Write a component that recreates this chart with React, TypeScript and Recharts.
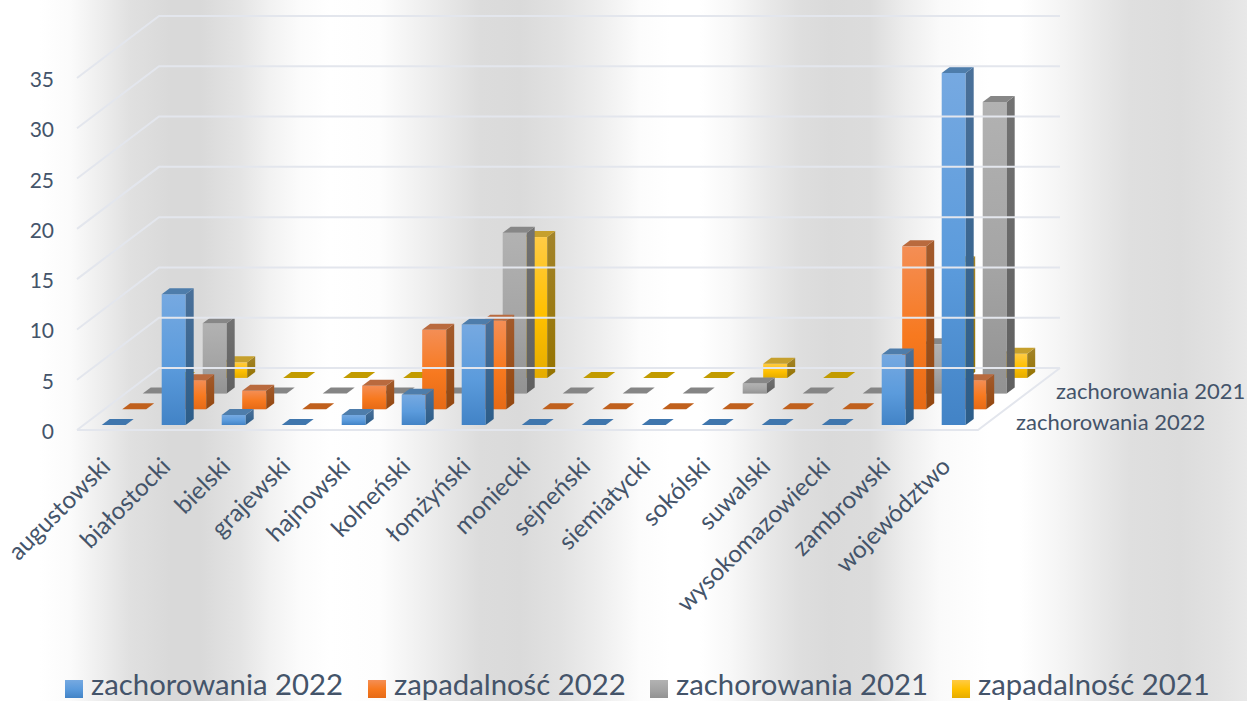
import { BarChart, Bar, XAxis, YAxis } from "recharts";

const categories = [
  "augustowski", "białostocki", "bielski", "grajewski", "hajnowski",
  "kolneński", "łomżyński", "moniecki", "sejneński", "siemiatycki",
  "sokólski", "suwalski", "wysokomazowiecki", "zambrowski", "województwo",
];
const zachorowania2022 = [0, 13, 1, 0, 1, 3, 10, 0, 0, 0, 0, 0, 0, 7, 35];
const zapadalnosc2022 = [0, 2.9, 1.85, 0, 2.35, 7.9, 8.8, 0, 0, 0, 0, 0, 0, 16.2, 2.9];
const zachorowania2021 = [0, 7, 0, 0, 0, 0, 16, 0, 0, 0, 1, 0, 0, 4.9, 29];
const zapadalnosc2021 = [0, 1.55, 0, 0, 0, 0, 14, 0, 0, 0, 1.4, 0, 0, 11.5, 2.4];
const valueTicks = [0, 5, 10, 15, 20, 25, 30, 35];
const depthLabels = ["zachorowania 2022", "zachorowania 2021"];

const chartData = categories.map((name, i) => ({
  name,
  zach22: zachorowania2022[i],
  zap22: zapadalnosc2022[i],
  zach21: zachorowania2021[i],
  zap21: zapadalnosc2021[i],
}));

const FONT = "Lato, 'Open Sans', sans-serif";
const TEXT = "#44546A";
const GRID = "#E3E6ED";
const LEFT = 77;
const RIGHT = 977;
const DEPTH_X = 82;
const DEPTH_Y = 62;

const BACKDROP =
  "linear-gradient(90deg, #fff 0px, #fff 40px, #fbfbfb 70px, #eee 100px, #e0e0e0 130px, #d9d9d9 170px, #d9d9d9 200px, #e4e4e4 240px, #f2f2f2 270px, #fbfbfb 300px, #fff 330px, #fdfdfd 380px, #f0f0f0 420px, #e6e6e6 450px, #dcdcdc 480px, #dadada 520px, #e2e2e2 560px, #eee 600px, #fcfcfc 640px, #fff 670px, #fff 700px, #f8f8f8 730px, #e8e8e8 770px, #dedede 800px, #dadada 830px, #dcdcdc 870px, #ededed 905px, #fafafa 940px, #fff 990px, #fff 1020px, #f6f6f6 1055px, #e8e8e8 1100px, #dfdfdf 1130px, #dcdcdc 1180px, #e2e2e2 1220px, #e8e8e8 1247px)";

const palette = {
  blue: { id: "blue", stops: ["#76A9E1", "#5B9BDC", "#4283C6"], side: ["#4A7099", "#2C5D89"], top: "#4E7DAB", flat: "#3F76AD" },
  orange: { id: "orange", stops: ["#F48E55", "#F7791F", "#E66A16"], side: ["#A35B2C", "#934710"], top: "#B96A3E", flat: "#C0601D" },
  gray: { id: "gray", stops: ["#B2B2B2", "#A5A5A5", "#929292"], side: ["#727272", "#606060"], top: "#878787", flat: "#858585" },
  yellow: { id: "yellow", stops: ["#FFCB45", "#FFC000", "#E5AC00"], side: ["#A3842B", "#957300"], top: "#C6A02D", flat: "#C29B00" },
};
type Tone = typeof palette.blue;

const legendItems = [
  { label: "zachorowania 2022", tone: palette.blue, left: 65 },
  { label: "zapadalność 2022", tone: palette.orange, left: 368 },
  { label: "zachorowania 2021", tone: palette.gray, left: 650 },
  { label: "zapadalność 2021", tone: palette.yellow, left: 952 },
];

// Oblique prism: row is how far back the series stands on the floor
// eslint-disable-next-line @typescript-eslint/no-explicit-any
const Prism = ({ x, y, width, height, row, tone }: any) => {
  const dx = 6.7 + 20.5 * row;
  const dy = 5 + 15.7 * row;
  const left = x + dx;
  const right = left + width;
  const top = y - dy;
  const bottom = top + height;
  const sx = 8;
  const sy = 6;
  const roof = `${left},${top} ${right},${top} ${right + sx},${top - sy} ${left + sx},${top - sy}`;
  if (height <= 0) {
    return <polygon points={roof} fill={tone.flat} />;
  }
  const side = `${right},${top} ${right + sx},${top - sy} ${right + sx},${bottom - sy} ${right},${bottom}`;
  return (
    <g>
      <rect x={left} y={top} width={width} height={height} fill={`url(#front-${tone.id})`} />
      <polygon points={side} fill={`url(#side-${tone.id})`} />
      <polygon points={roof} fill={tone.top} />
    </g>
  );
};

// eslint-disable-next-line @typescript-eslint/no-explicit-any
const ValueTick = ({ y, payload }: any) => (
  <g>
    <polyline
      points={`${LEFT},${y} ${LEFT + DEPTH_X},${y - DEPTH_Y} ${RIGHT + DEPTH_X + 1},${y - DEPTH_Y}`}
      fill="none"
      stroke={GRID}
      strokeWidth={2}
    />
    {payload.value === 0 && (
      <>
        <polyline
          points={`${LEFT},${y} ${RIGHT + 1},${y} ${RIGHT + DEPTH_X + 1},${y - DEPTH_Y}`}
          fill="none"
          stroke={GRID}
          strokeWidth={2}
        />
        <text x={1016} y={y + 0} fill={TEXT} fontFamily={FONT} fontSize={22}>{depthLabels[0]}</text>
        <text x={1056} y={y - 31} fill={TEXT} fontFamily={FONT} fontSize={22}>{depthLabels[1]}</text>
      </>
    )}
    <text x={54} y={y + 9} textAnchor="end" fill={TEXT} fontFamily={FONT} fontSize={21}>
      {payload.value}
    </text>
  </g>
);

// eslint-disable-next-line @typescript-eslint/no-explicit-any
const CategoryTick = ({ x, payload }: any) => (
  <text
    transform={`translate(${x + 5},468) rotate(-45)`}
    textAnchor="end"
    fill={TEXT}
    fontFamily={FONT}
    fontSize={24.3}
  >
    {payload.value}
  </text>
);

const ChartLegend = () => (
  <div style={{ position: "absolute", left: 0, top: 0, width: 1247, height: 701, overflow: "hidden" }}>
    {legendItems.map((item) => (
      <div key={item.label}>
        <div
          style={{
            position: "absolute",
            left: item.left,
            top: 680,
            width: 18,
            height: 18,
            background: `linear-gradient(180deg, ${item.tone.stops.join(", ")})`,
          }}
        />
        <div
          style={{
            position: "absolute",
            left: item.left + 26,
            top: 669,
            fontFamily: FONT,
            fontSize: 29.3,
            lineHeight: "30px",
            color: TEXT,
            whiteSpace: "nowrap",
          }}
        >
          {item.label}
        </div>
      </div>
    ))}
  </div>
);

export default function App() {
  const tones = Object.values(palette) as Tone[];
  return (
    <div
      style={{
        position: "absolute",
        left: 0,
        top: 0,
        width: 1247,
        height: 701,
        overflow: "hidden",
        background: BACKDROP,
      }}
    >
      <ChartLegend />
      <div style={{ position: "absolute", left: 0, top: 0 }}>
        <BarChart
          width={1247}
          height={701}
          data={chartData}
          barSize={24}
          barGap={-24}
          margin={{ top: 78, right: 270, bottom: 0, left: 0 }}
        >
          <defs>
            {tones.map((t) => (
              <linearGradient key={t.id} id={`front-${t.id}`} x1="0" y1="0" x2="0" y2="1">
                <stop offset="0%" stopColor={t.stops[0]} />
                <stop offset="55%" stopColor={t.stops[1]} />
                <stop offset="100%" stopColor={t.stops[2]} />
              </linearGradient>
            ))}
            {tones.map((t) => (
              <linearGradient key={t.id} id={`side-${t.id}`} x1="0" y1="0" x2="0" y2="1">
                <stop offset="0%" stopColor={t.side[0]} />
                <stop offset="100%" stopColor={t.side[1]} />
              </linearGradient>
            ))}
          </defs>
          <XAxis
            dataKey="name"
            height={271}
            interval={0}
            axisLine={false}
            tickLine={false}
            tick={<CategoryTick />}
          />
          <YAxis
            width={77}
            domain={[0, 35]}
            ticks={valueTicks}
            interval={0}
            axisLine={false}
            tickLine={false}
            tick={<ValueTick />}
          />
          <Bar dataKey="zap21" isAnimationActive={false} shape={<Prism row={3} tone={palette.yellow} />} />
          <Bar dataKey="zach21" isAnimationActive={false} shape={<Prism row={2} tone={palette.gray} />} />
          <Bar dataKey="zap22" isAnimationActive={false} shape={<Prism row={1} tone={palette.orange} />} />
          <Bar dataKey="zach22" isAnimationActive={false} shape={<Prism row={0} tone={palette.blue} />} />
        </BarChart>
      </div>
    </div>
  );
}
